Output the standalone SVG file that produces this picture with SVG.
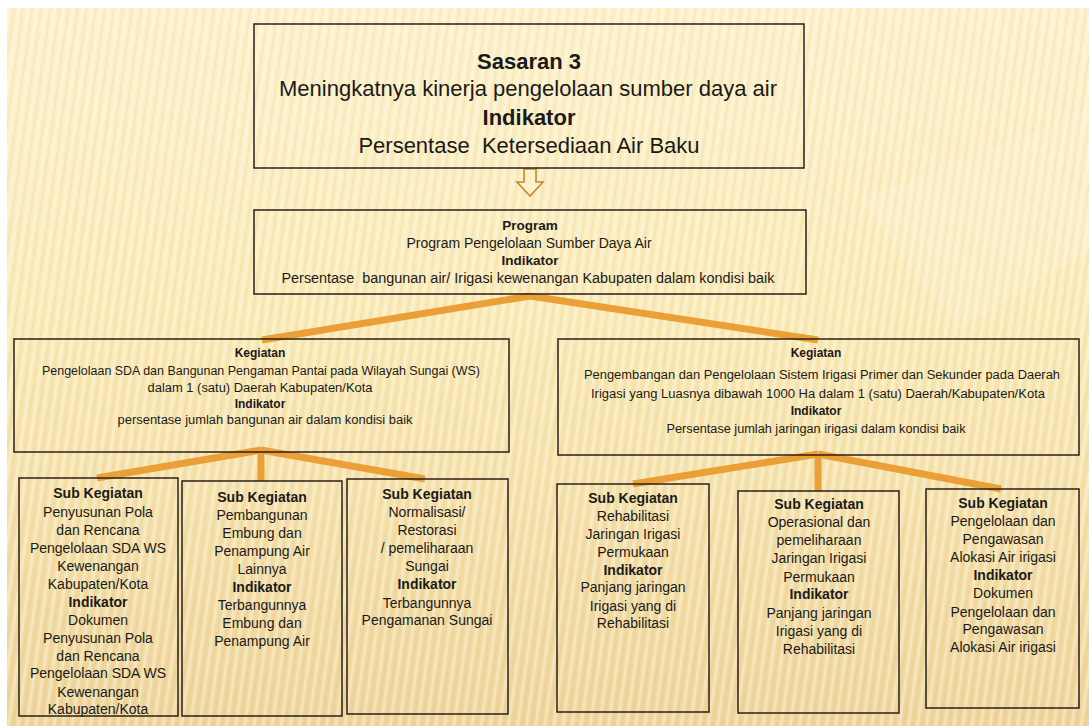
<svg xmlns="http://www.w3.org/2000/svg" width="1089" height="726" viewBox="0 0 1089 726">
<defs>
<linearGradient id="bg" x1="0" y1="0" x2="0" y2="1">
<stop offset="0" stop-color="#fdf1cb"/>
<stop offset="0.45" stop-color="#faeab6"/>
<stop offset="1" stop-color="#eed59b"/>
</linearGradient>
<pattern id="stripes" width="9" height="40" patternUnits="userSpaceOnUse" patternTransform="rotate(8)">
<rect x="0" y="0" width="3" height="40" fill="#ffffff" opacity="0.3"/>
<rect x="5" y="0" width="2" height="40" fill="#b8904a" opacity="0.08"/>
</pattern>
</defs>
<style>
.box{fill:none;stroke:#2a2018;stroke-width:1.5}
.t{font-family:"Liberation Sans",Arial,sans-serif;fill:#1c1a16;text-anchor:middle}
.b{font-weight:bold}
.con{stroke:#eba037;stroke-width:7;stroke-linecap:butt;fill:none}
.s14{font-size:14px}
.s22{font-size:22px}
.s12{font-size:12.5px}
</style>
<rect x="0" y="0" width="1089" height="726" fill="#ffffff"/>
<rect x="7" y="8" width="1082" height="718" fill="url(#bg)"/>
<rect x="7" y="8" width="1082" height="718" fill="url(#stripes)"/>
<polygon points="860,200 1089,110 1089,250 960,330" fill="#ffffff" opacity="0.12"/>

<g id="connectors">
<line class="con" x1="530" y1="296" x2="262" y2="340"/>
<line class="con" x1="530" y1="296" x2="818" y2="340"/>
<line class="con" x1="261" y1="450" x2="97" y2="478"/>
<line class="con" x1="261" y1="450" x2="261" y2="481"/>
<line class="con" x1="261" y1="450" x2="425" y2="479"/>
<line class="con" x1="818" y1="454" x2="633" y2="484"/>
<line class="con" x1="818" y1="454" x2="818" y2="491"/>
<line class="con" x1="818" y1="454" x2="1001" y2="489"/>
<path d="M524,169 L536,169 L536,182 L543,182 L530,196 L517,182 L524,182 Z" fill="#fdf1cc" stroke="#c8892c" stroke-width="1.6" stroke-linejoin="miter"/>
</g>

<g id="sasaran">
<rect class="box" x="254" y="24" width="550" height="144"/>
<text class="t b s22" x="529" y="69">Sasaran 3</text>
<text class="t s22" x="528" y="96" textLength="498" lengthAdjust="spacingAndGlyphs">Meningkatnya kinerja pengelolaan sumber daya air</text>
<text class="t b s22" x="529" y="125">Indikator</text>
<text class="t s22" x="529" y="153">Persentase&#160; Ketersediaan Air Baku</text>
</g>

<g id="program">
<rect class="box" x="254" y="210" width="552" height="84"/>
<text class="t b" font-size="13.5" x="530" y="230">Program</text>
<text class="t s14" x="529" y="248">Program Pengelolaan Sumber Daya Air</text>
<text class="t b" font-size="13.5" x="530" y="265">Indikator</text>
<text class="t s14" x="528" y="283" textLength="493" lengthAdjust="spacingAndGlyphs">Persentase&#160; bangunan air/ Irigasi kewenangan Kabupaten dalam kondisi baik</text>
</g>

<g id="kegiatan-kiri">
<rect class="box" x="14" y="339" width="495" height="113"/>
<text class="t b" font-size="12" x="260" y="357">Kegiatan</text>
<text class="t s12" x="261" y="375" textLength="438" lengthAdjust="spacingAndGlyphs">Pengelolaan SDA dan Bangunan Pengaman Pantai pada Wilayah Sungai (WS)</text>
<text class="t s12" x="260" y="392" textLength="225" lengthAdjust="spacingAndGlyphs">dalam 1 (satu) Daerah Kabupaten/Kota</text>
<text class="t b" font-size="12" x="260" y="408">Indikator</text>
<text class="t s12" x="265" y="424" textLength="295" lengthAdjust="spacingAndGlyphs">persentase jumlah bangunan air dalam kondisi baik</text>
</g>

<g id="kegiatan-kanan">
<rect class="box" x="558" y="339" width="521" height="116"/>
<text class="t b" font-size="12" x="816" y="357">Kegiatan</text>
<text class="t s12" x="822" y="379" textLength="476" lengthAdjust="spacingAndGlyphs">Pengembangan dan Pengelolaan Sistem Irigasi Primer dan Sekunder pada Daerah</text>
<text class="t s12" x="818" y="398" textLength="454" lengthAdjust="spacingAndGlyphs">Irigasi yang Luasnya dibawah 1000 Ha dalam 1 (satu) Daerah/Kabupaten/Kota</text>
<text class="t b" font-size="12" x="816" y="415">Indikator</text>
<text class="t s12" x="816" y="433" textLength="299" lengthAdjust="spacingAndGlyphs">Persentase jumlah jaringan irigasi dalam kondisi baik</text>
</g>

<g id="sub1">
<rect class="box" x="19" y="478" width="159" height="238"/>
<text class="t b s14" x="98" y="498">Sub Kegiatan</text>
<text class="t s14" x="98" y="517">Penyusunan Pola</text>
<text class="t s14" x="98" y="535">dan Rencana</text>
<text class="t s14" x="98" y="553">Pengelolaan SDA WS</text>
<text class="t s14" x="98" y="571">Kewenangan</text>
<text class="t s14" x="98" y="589">Kabupaten/Kota</text>
<text class="t b s14" x="98" y="607">Indikator</text>
<text class="t s14" x="98" y="625">Dokumen</text>
<text class="t s14" x="98" y="643">Penyusunan Pola</text>
<text class="t s14" x="98" y="661">dan Rencana</text>
<text class="t s14" x="98" y="678">Pengelolaan SDA WS</text>
<text class="t s14" x="98" y="697">Kewenangan</text>
<text class="t s14" x="98" y="714">Kabupaten/Kota</text>
</g>

<g id="sub2">
<rect class="box" x="182" y="481" width="160" height="235"/>
<text class="t b s14" x="262" y="502">Sub Kegiatan</text>
<text class="t s14" x="262" y="520">Pembangunan</text>
<text class="t s14" x="262" y="538">Embung dan</text>
<text class="t s14" x="262" y="556">Penampung Air</text>
<text class="t s14" x="262" y="574">Lainnya</text>
<text class="t b s14" x="262" y="592">Indikator</text>
<text class="t s14" x="262" y="610">Terbangunnya</text>
<text class="t s14" x="262" y="628">Embung dan</text>
<text class="t s14" x="262" y="646">Penampung Air</text>
</g>

<g id="sub3">
<rect class="box" x="347" y="479" width="161" height="235"/>
<text class="t b s14" x="427" y="499">Sub Kegiatan</text>
<text class="t s14" x="427" y="517">Normalisasi/</text>
<text class="t s14" x="427" y="535">Restorasi</text>
<text class="t s14" x="427" y="553">/ pemeliharaan</text>
<text class="t s14" x="427" y="571">Sungai</text>
<text class="t b s14" x="427" y="589">Indikator</text>
<text class="t s14" x="427" y="608">Terbangunnya</text>
<text class="t s14" x="427" y="625">Pengamanan Sungai</text>
</g>

<g id="sub4">
<rect class="box" x="557" y="484" width="152" height="228"/>
<text class="t b s14" x="633" y="503">Sub Kegiatan</text>
<text class="t s14" x="633" y="521">Rehabilitasi</text>
<text class="t s14" x="633" y="539">Jaringan Irigasi</text>
<text class="t s14" x="633" y="557">Permukaan</text>
<text class="t b s14" x="633" y="575">Indikator</text>
<text class="t s14" x="633" y="592">Panjang jaringan</text>
<text class="t s14" x="633" y="611">Irigasi yang di</text>
<text class="t s14" x="633" y="628">Rehabilitasi</text>
</g>

<g id="sub5">
<rect class="box" x="738" y="491" width="161" height="222"/>
<text class="t b s14" x="819" y="509">Sub Kegiatan</text>
<text class="t s14" x="819" y="527">Operasional dan</text>
<text class="t s14" x="819" y="545">pemeliharaan</text>
<text class="t s14" x="819" y="563">Jaringan Irigasi</text>
<text class="t s14" x="819" y="582">Permukaan</text>
<text class="t b s14" x="819" y="599">Indikator</text>
<text class="t s14" x="819" y="618">Panjang jaringan</text>
<text class="t s14" x="819" y="636">Irigasi yang di</text>
<text class="t s14" x="819" y="654">Rehabilitasi</text>
</g>

<g id="sub6">
<rect class="box" x="926" y="489" width="153" height="219"/>
<text class="t b s14" x="1003" y="508">Sub Kegiatan</text>
<text class="t s14" x="1003" y="526">Pengelolaan dan</text>
<text class="t s14" x="1003" y="544">Pengawasan</text>
<text class="t s14" x="1003" y="562">Alokasi Air irigasi</text>
<text class="t b s14" x="1003" y="580">Indikator</text>
<text class="t s14" x="1003" y="598">Dokumen</text>
<text class="t s14" x="1003" y="617">Pengelolaan dan</text>
<text class="t s14" x="1003" y="634">Pengawasan</text>
<text class="t s14" x="1003" y="652">Alokasi Air irigasi</text>
</g>
</svg>
